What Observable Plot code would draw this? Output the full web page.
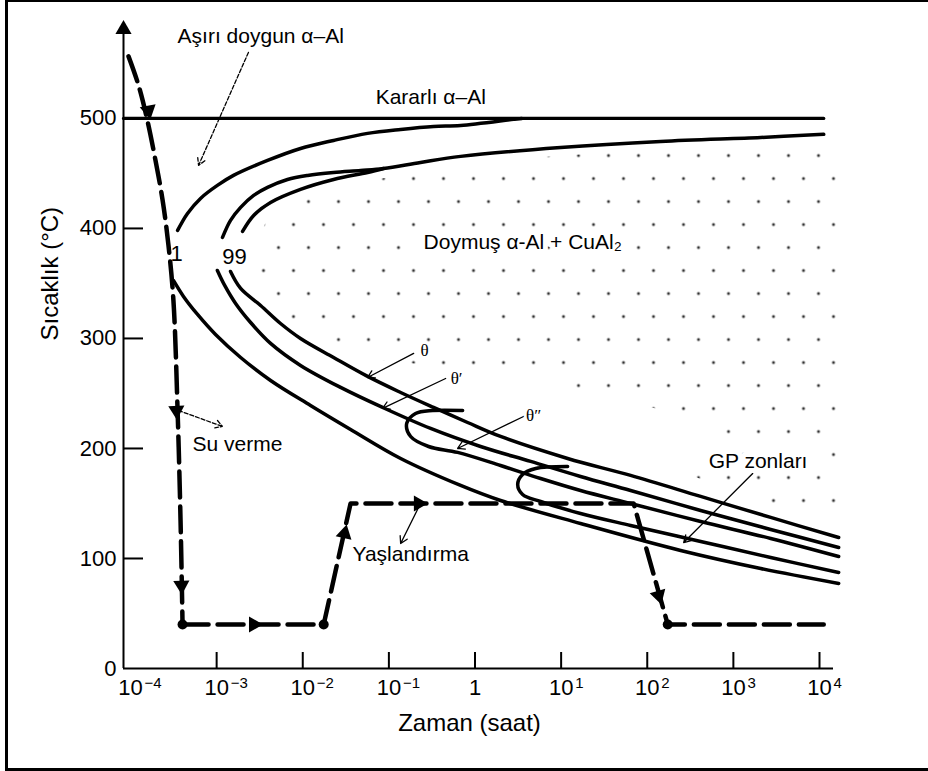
<!DOCTYPE html>
<html><head><meta charset="utf-8">
<script src="https://cdn.jsdelivr.net/npm/d3@7"></script>
<script src="https://cdn.jsdelivr.net/npm/@observablehq/plot@0.6"></script>
<style>
html,body{margin:0;padding:0;background:#fff;}
#wrap{position:relative;width:928px;height:771px;overflow:hidden;background:#fff;}
#chart svg{display:block;}
#frame{position:absolute;left:5px;top:0;width:923px;height:771px;box-sizing:border-box;border-left:3px solid #000;border-top:2px solid #000;border-bottom:3px solid #000;pointer-events:none;}
</style></head>
<body><div id="wrap"><div id="chart"></div><div id="frame"></div></div>
<script>
// ---- axis values ----
const xMin = 8.29e-5, xMax = 1.454e4;          // time axis extent (saat)
const yMaxAxis = 589;                          // temperature axis extent (°C)
const xTickTimes = [1e-4, 1e-3, 1e-2, 1e-1, 1, 1e1, 1e2, 1e3, 1e4];
const xTickBase  = ["10", "10", "10", "10", "1", "10", "10", "10", "10"];
const xTickExp   = ["−4", "−3", "−2", "−1", "", "1", "2", "3", "4"];
const yTicks = [0, 100, 200, 300, 400, 500];
const yInnerTicks = [100, 200, 300, 400];

// ---- curves: [time (saat), temperature (°C)] ----
const stableLine = [[xMin, 500], [1.12e4, 500]];
const curve1Upper = [[3.52e-4,398.2],[4.59e-4,413.6],[6.50e-4,427.3],[1.02e-3,439.1],[1.57e-3,448.2],[3.90e-3,461.8],[9.42e-3,472.7],[0.0228,480],[0.0566,486.4],[0.137,490],[0.330,492.7],[0.681,493.6],[2.81,499.2],[3.5,500]];
const curve99aUpper = [[1.17e-3,391.8],[1.45e-3,407.3],[1.90e-3,419.1],[2.69e-3,430],[3.90e-3,437.3],[6.65e-3,444.5],[0.0114,448.2],[0.0228,450.9],[0.0469,452.7],[0.0867,454.5],[0.233,460],[0.681,465.5],[9.87,473.6],[143,479.1],[2075,482.7],[1.12e4,485.5]];
const curve99bUpper = [[2.00e-3,397.3],[2.69e-3,411.8],[4.23e-3,423.6],[9.42e-3,435.5],[0.0228,444.5],[0.0566,450.9],[0.0867,454.5]];
const curve1Lower = [[3.15e-4,352.7],[4.12e-4,338.2],[6.00e-4,321.8],[9.71e-4,303.6],[1.90e-3,282.7],[4.23e-3,261.8],[0.0123,239.1],[0.0359,217.3],[0.137,190.9],[0.681,166.4],[1.98,152.7],[16.8,131.8],[244,107.3],[2075,90.9],[1.67e4,77.3]];
const curve99aLower = [[1.02e-3,361.8],[1.24e-3,348.2],[1.66e-3,331.8],[2.48e-3,314.5],[4.23e-3,295.5],[9.42e-3,275.5],[0.0275,255.5],[0.0845,237.3],[0.305,218.2],[1.16,201.8],[4.43,188.2],[16.8,174.5],[64.1,161.8],[417,143.6],[2710,126.4],[1.67e4,110]];
const curve99bLower = [[1.45e-3,360.9],[1.90e-3,345.5],[3.24e-3,330],[5.52e-3,313.6],[9.42e-3,300],[0.0228,282.7],[0.0566,265.5],[0.137,250.9],[0.330,237.3],[0.820,223.6],[1.98,210.9],[11.9,190.9],[64.1,175.5],[417,156.4],[2710,137.3],[1.67e4,119.1]];
const thetaDoubleLoop = [[0.718,234.5],[0.322,234.5],[0.204,231.8],[0.161,222.7],[0.179,210.9],[0.289,201.8],[0.628,196.4],[1.98,184.5],[5.78,172.7],[16.8,161.8],[64.1,150],[417,133.6],[2710,118.2],[1.67e4,101.8]];
const gpLoop = [[11.9,183.6],[5.06,181.8],[3.57,176.4],[3.13,167.3],[3.57,158.2],[5.78,151.8],[16.8,140.9],[64.1,130],[417,115.5],[2710,100.9],[1.67e4,87.3]];

// ---- heat-treatment path (dashed) ----
const quenchCurve = [[9.48e-5,556.4],[1.24e-4,530],[1.57e-4,498.2],[1.95e-4,461.8],[2.36e-4,425.5],[2.76e-4,384.5],[3.15e-4,334.5],[3.52e-4,234.5],[3.81e-4,134.5],[4.02e-4,40]];
const agePath = [[4.02e-4,40],[0.0175,40],[0.0359,150],[69.5,150],[173,40],[1.12e4,40]];
const pathCorners = [[4.02e-4,40],[0.0175,40],[173,40]];
const pathArrows = [[1.62e-4,507.3],[3.42e-4,234.5],[3.91e-4,75.5],[2.69e-3,40],[0.0306,122.7],[0.221,150],[136,66.4]];
const pathArrowDir = [169, 178, 178, 90, 13, 90, 164];

// ---- stippled region (α-Al + CuAl2) ----
const stippleRegion = [[1.585e4,477.3],[2075,475.5],[143,471.8],[9.87,466.4],[0.681,458.2],[0.137,448.2],[0.0359,440.9],[0.0123,430.9],[5.82e-3,419.1],[3.70e-3,405.5],[2.99e-3,387.3],[2.83e-3,369.1],[3.07e-3,348.2],[4.01e-3,330],[6.31e-3,314.5],[0.0123,300.9],[0.0261,285.5],[0.137,278.2],[3.39,269.1],[37.6,245.5],[881,221.8],[272,178.2],[1390,155.5],[1.585e4,134.5]];

// ---- pointer arrows [t1, T1, t2, T2] ----
const solidPointers = [[0.194,286.4,0.0566,264.5],[0.456,263.6,0.0845,236.4],[3.87,230,0.628,200],[0.221,146.4,0.137,113.6],[1675,177.3,265,114.5]];
const dashedPointers = [[2.34e-3,560,6.17e-4,457.3],[3.61e-4,234.5,1.17e-3,220]];

// ---- labels ----
const labelTexts = ["Aşırı doygun α–Al", "Kararlı α–Al", "Su verme", "Yaşlandırma"];
const labelTimes = [3.52e-4, 0.0702, 5.25e-4, 0.0378];
const labelTemps = [574.9, 519.5, 204, 104];
const haloTexts = ["Doymuş α-Al + CuAl₂", "GP zonları"];
const haloTimes = [0.253, 516];
const haloTemps = [387.6, 188.5];
const curveLabels = ["1", "99"];
const curveLabelTimes = [3.42e-4, 1.61e-3];
const curveLabelTemps = [376.7, 374];
const phaseLabels = ["θ", "θ′", "θ″"];
const phaseTimes = [0.260, 0.611, 4.80];
const phaseTemps = [289.1, 263.6, 230];

const X = d => d[0], Y = d => d[1];
const solid = {x: X, y: Y, stroke: "black", strokeWidth: 3.5, curve: "catmull-rom"};
const dashed = {x: X, y: Y, stroke: "black", strokeWidth: 4.5, strokeDasharray: "26,9"};

const chart = Plot.plot({
  width: 928, height: 771,
  marginLeft: 123, marginRight: 95, marginTop: 20, marginBottom: 103,
  x: {type: "log", domain: [xMin, xMax]},
  y: {domain: [0, yMaxAxis]},
  style: {fontFamily: "'Liberation Sans', Arial, sans-serif", fontSize: "22px", color: "black", background: "white"},
  marks: [
    Plot.line(stippleRegion, {x: X, y: Y, fill: "url(#stipple)", stroke: "none", curve: "linear-closed"}),
    Plot.ruleX([xMin], {y1: 0, y2: 578, strokeWidth: 2}),
    Plot.ruleY([0], {x1: xMin, x2: xMax, strokeWidth: 2}),
    Plot.dot([[xMin, 581]], {x: X, y: Y, symbol: "triangle", r: 6, fill: "black", stroke: "none"}),
    Plot.axisY({ticks: yTicks, tickSize: 0, tickPadding: 7, label: null, fontSize: 22}),
    Plot.axisY({ticks: yInnerTicks, tickSize: 20, dx: 20, tickFormat: () => "", label: null, strokeWidth: 2}),
    Plot.axisX({ticks: xTickTimes.slice(1), tickSize: 16, dy: -16, tickFormat: () => "", label: null, strokeWidth: 2}),
    Plot.text(xTickTimes, {x: d => d, text: (d, i) => xTickBase[i], frameAnchor: "bottom", dy: 26, fontSize: 22, textAnchor: "middle"}),
    Plot.text(xTickTimes, {x: d => d, text: (d, i) => xTickExp[i], frameAnchor: "bottom", dy: 19, dx: 14, fontSize: 15, textAnchor: "start"}),
    Plot.text(["Sıcaklık (°C)"], {frameAnchor: "left", dx: -73, dy: -4, rotate: -90, fontSize: 24}),
    Plot.text(["Zaman (saat)"], {frameAnchor: "bottom", dx: -9, dy: 62, fontSize: 24}),
    Plot.line(stableLine, {x: X, y: Y, stroke: "black", strokeWidth: 3.2}),
    Plot.line(curve1Upper, solid),
    Plot.line(curve99aUpper, solid),
    Plot.line(curve99bUpper, solid),
    Plot.line(curve1Lower, solid),
    Plot.line(curve99aLower, solid),
    Plot.line(curve99bLower, solid),
    Plot.line(thetaDoubleLoop, solid),
    Plot.line(gpLoop, solid),
    Plot.line(quenchCurve, {...dashed, curve: "catmull-rom"}),
    Plot.line(agePath, {...dashed, curve: "linear"}),
    Plot.dot(pathCorners, {x: X, y: Y, r: 5, fill: "black", stroke: "none"}),
    Plot.dot(pathArrows, {x: X, y: Y, symbol: "triangle", r: 6, fill: "black", stroke: "none", rotate: (d, i) => pathArrowDir[i]}),
    Plot.arrow(solidPointers, {x1: d => d[0], y1: d => d[1], x2: d => d[2], y2: d => d[3], stroke: "black", strokeWidth: 1.3, headLength: 9}),
    Plot.arrow(dashedPointers, {x1: d => d[0], y1: d => d[1], x2: d => d[2], y2: d => d[3], stroke: "black", strokeWidth: 1.3, headLength: 9, strokeDasharray: "4,2"}),
    Plot.text(labelTexts, {x: (d, i) => labelTimes[i], y: (d, i) => labelTemps[i], text: d => d, textAnchor: "start", fontSize: 21}),
    Plot.text(haloTexts, {x: (d, i) => haloTimes[i], y: (d, i) => haloTemps[i], text: d => d, textAnchor: "start", fontSize: 21, fill: "black", stroke: "white", strokeWidth: 10, paintOrder: "stroke"}),
    Plot.text(curveLabels, {x: (d, i) => curveLabelTimes[i], y: (d, i) => curveLabelTemps[i], text: d => d, textAnchor: "middle", fontSize: 22}),
    Plot.text(phaseLabels, {x: (d, i) => phaseTimes[i], y: (d, i) => phaseTemps[i], text: d => d, textAnchor: "middle", fontSize: 17, fontFamily: "'Liberation Serif', serif", fill: "black", stroke: "white", strokeWidth: 6, paintOrder: "stroke"})
  ]
});

// stipple pattern definition
const ns = "http://www.w3.org/2000/svg";
const defs = document.createElementNS(ns, "defs");
const pat = document.createElementNS(ns, "pattern");
pat.setAttribute("id", "stipple");
pat.setAttribute("patternUnits", "userSpaceOnUse");
pat.setAttribute("width", "60");
pat.setAttribute("height", "46");
[[8,17],[38,17],[23,40],[53,40]].forEach(([cx, cy]) => {
  const c = document.createElementNS(ns, "circle");
  c.setAttribute("cx", cx); c.setAttribute("cy", cy); c.setAttribute("r", "1.5");
  c.setAttribute("fill", "#333");
  pat.appendChild(c);
});
defs.appendChild(pat);
chart.insertBefore(defs, chart.firstChild);
document.getElementById("chart").appendChild(chart);
</script></body></html>
